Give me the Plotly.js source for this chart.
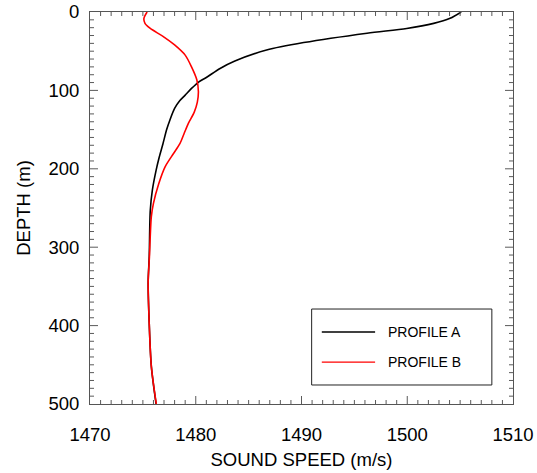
<!DOCTYPE html>
<html>
<head>
<meta charset="utf-8">
<script src="https://cdn.plot.ly/plotly-3.0.1.min.js"></script>
<style>html,body{margin:0;padding:0;background:#fff;}#chart{width:537px;height:473px;}</style>
</head>
<body>
<div id="chart"></div>
<script>
const seriesNames = ["PROFILE A", "PROFILE B"];
const seriesColors = ["#000000", "#ff0000"];

const depthA = [0, 8, 14.5, 21, 27, 39, 48.5, 62.5, 72, 83.5, 89, 97.5, 106, 113, 123, 138, 150, 168, 185, 202, 227, 253, 312, 345, 397, 452, 500];
const speedA = [1505.1, 1504.05, 1502.5, 1499.95, 1496.2, 1490.2, 1486.7, 1483.7, 1482.3, 1481.0, 1480.3, 1479.6, 1479.0, 1478.5, 1478.0, 1477.55, 1477.25, 1476.9, 1476.55, 1476.25, 1475.9, 1475.7, 1475.6, 1475.5, 1475.6, 1475.8, 1476.25];

const depthB = [0, 8, 14.5, 21, 31, 42, 55, 70, 86.5, 101.5, 115, 128, 142, 155, 168, 180.5, 197.5, 219, 244, 261, 312, 345.5, 397, 452, 500];
const speedB = [1475.4, 1475.1, 1475.2, 1475.7, 1476.9, 1478.0, 1479.0, 1479.6, 1480.1, 1480.25, 1480.15, 1479.85, 1479.3, 1478.9, 1478.5, 1477.9, 1477.1, 1476.5, 1476.0, 1475.8, 1475.62, 1475.5, 1475.6, 1475.8, 1476.27];

const xTicks = [1470, 1480, 1490, 1500, 1510];
const yTicks = [0, 100, 200, 300, 400, 500];
const xMinorStep = 1;
const yMinorStep = 10;

const font = "Liberation Sans, Arial, Helvetica, sans-serif";
const axisCol = "#555555";
const tickCol = "#5a5a5a";

const W = 537, H = 473;
const M = {l: 90, r: 24, t: 12, b: 69};
const plotW = W - M.l - M.r, plotH = H - M.t - M.b;
const majorLen = 8, minorLen = 4;

const traces = [
  {x: speedA, y: depthA, mode: "lines", name: seriesNames[0], line: {color: seriesColors[0], width: 1.6, shape: "spline", smoothing: 0.8}, showlegend: false},
  {x: speedB, y: depthB, mode: "lines", name: seriesNames[1], line: {color: seriesColors[1], width: 1.6, shape: "spline", smoothing: 0.8}, showlegend: false}
];

/* tick marks on all four sides, placed on the axes' own scales */
const shapes = [];
const xMin = xTicks[0], xMax = xTicks[xTicks.length - 1];
const yMin = yTicks[0], yMax = yTicks[yTicks.length - 1];
const nX = Math.round((xMax - xMin) / xMinorStep);
for (let i = 1; i < nX; i++) {
  const v = xMin + i * xMinorStep;
  const isMajor = xTicks.indexOf(v) >= 0;
  const f = (isMajor ? majorLen : minorLen) / plotH;
  shapes.push({type: "line", xref: "x", yref: "paper", x0: v, x1: v, y0: 0, y1: f, line: {color: tickCol, width: 1}, layer: "above"});
  shapes.push({type: "line", xref: "x", yref: "paper", x0: v, x1: v, y0: 1, y1: 1 - f, line: {color: tickCol, width: 1}, layer: "above"});
}
const nY = Math.round((yMax - yMin) / yMinorStep);
for (let i = 1; i < nY; i++) {
  const v = yMin + i * yMinorStep;
  const isMajor = yTicks.indexOf(v) >= 0;
  const f = (isMajor ? majorLen : minorLen) / plotW;
  shapes.push({type: "line", xref: "paper", yref: "y", x0: 0, x1: f, y0: v, y1: v, line: {color: tickCol, width: 1}, layer: "above"});
  shapes.push({type: "line", xref: "paper", yref: "y", x0: 1, x1: 1 - f, y0: v, y1: v, line: {color: tickCol, width: 1}, layer: "above"});
}

/* legend box */
const legX0 = 0.524, legX1 = 0.950, legY0 = 0.0485, legY1 = 0.2423;
const lineX0 = 0.548, lineX1 = 0.674, textX = 0.700;
const rowY = [0.1837, 0.107];
shapes.push({type: "rect", xref: "paper", yref: "paper", x0: legX0, x1: legX1, y0: legY0, y1: legY1, line: {color: "#222", width: 1}, fillcolor: "rgba(0,0,0,0)"});
const annotations = [];
seriesNames.forEach((n, i) => {
  shapes.push({type: "line", xref: "paper", yref: "paper", x0: lineX0, x1: lineX1, y0: rowY[i], y1: rowY[i], line: {color: seriesColors[i], width: 1.3}});
  annotations.push({xref: "paper", yref: "paper", x: textX, y: rowY[i], xanchor: "left", yanchor: "middle", text: n, showarrow: false, font: {family: font, size: 14, color: "#000"}});
});

const layout = {
  width: W, height: H,
  margin: M,
  paper_bgcolor: "#fff", plot_bgcolor: "#fff",
  showlegend: false,
  font: {family: font, color: "#000"},
  xaxis: {
    range: [xMin, xMax],
    tickmode: "linear", tick0: xMin, dtick: xTicks[1] - xTicks[0],
    ticks: "", showline: true, linecolor: axisCol, linewidth: 1, mirror: true,
    showgrid: false, zeroline: false,
    tickfont: {family: font, size: 18.5, color: "#000"},
    ticklabelstandoff: 14,
    title: {text: "SOUND SPEED (m/s)", font: {family: font, size: 18.5, color: "#000"}, standoff: 8}
  },
  yaxis: {
    range: [yMax, yMin],
    tickmode: "linear", tick0: yMin, dtick: yTicks[1] - yTicks[0],
    ticks: "", showline: true, linecolor: axisCol, linewidth: 1, mirror: true,
    showgrid: false, zeroline: false,
    tickfont: {family: font, size: 18.5, color: "#000"},
    ticklabelstandoff: 6,
    title: {text: "DEPTH (m)", font: {family: font, size: 18.5, color: "#000"}, standoff: 12}
  },
  shapes: shapes,
  annotations: annotations
};

Plotly.newPlot("chart", traces, layout, {displayModeBar: false});
</script>
</body>
</html>
